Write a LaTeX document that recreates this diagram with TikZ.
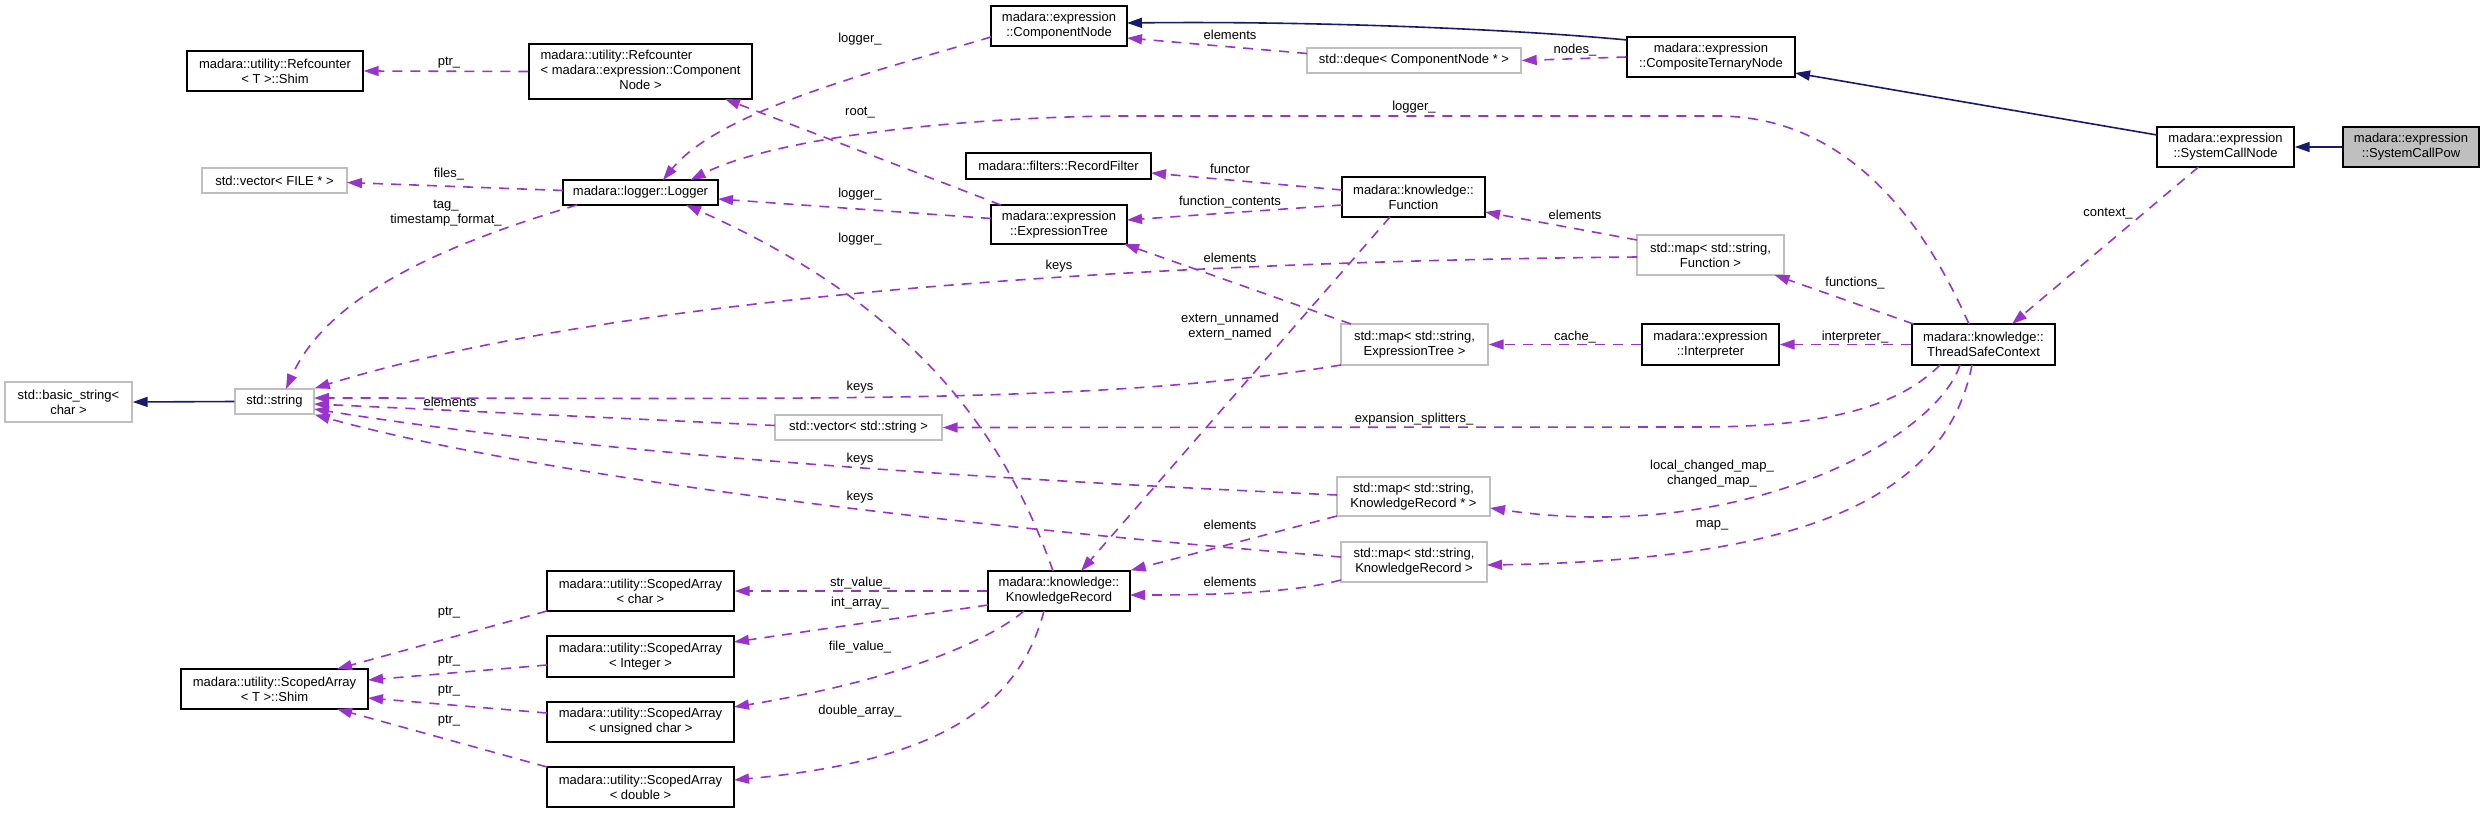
\documentclass[tikz,border=0pt]{standalone}
\usepackage{fontspec}
\setmainfont{Liberation Sans}
\usetikzlibrary{arrows.meta,calc}
\definecolor{usepurple}{HTML}{9A32CD}
\definecolor{inhblue}{HTML}{191970}
\definecolor{bordergray}{HTML}{BFBFBF}
\definecolor{focusgray}{HTML}{BFBFBF}
\newcommand{\dfont}{\fontsize{6.5pt}{7.5pt}\selectfont}
\begin{document}
\begin{tikzpicture}[x=0.5pt,y=-0.5pt,
  cls/.style={draw=black, line width=0.7pt, fill=white, inner sep=0pt, align=center, font=\dfont},
  ucls/.style={cls, draw=bordergray},
  inhedge/.style={draw=inhblue, line width=0.8pt, -{Triangle[length=7.5pt,width=5pt]}},
  usedge/.style={draw=usepurple, line width=0.8pt, dash pattern=on 5pt off 4pt, -{Triangle[length=7.5pt,width=5pt]}},
  lbl/.style={font=\dfont, inner sep=0pt, align=center}]
\useasboundingbox (0,0) rectangle (2484,813);
% nodes
\node[cls, fill=focusgray, minimum width=68pt, minimum height=20pt] (pow) at (2411,147) {madara::expression\\::SystemCallPow};
\node[cls, minimum width=68.5pt, minimum height=20pt] (scn) at (2225.5,147) {madara::expression\\::SystemCallNode};
\node[cls, minimum width=84pt, minimum height=20pt] (ctn) at (1711,57) {madara::expression\\::CompositeTernaryNode};
\node[cls, minimum width=68pt, minimum height=20pt] (cn) at (1059,26) {madara::expression\\::ComponentNode};
\node[ucls, minimum width=107pt, minimum height=12.5pt] (deque) at (1414,60.5) {std::deque< ComponentNode * >};
\node[cls, minimum width=111.5pt, minimum height=27.5pt] (refcn) at (640.5,71.5) {\begin{tabular}{@{}l@{}}madara::utility::Refcounter\\< madara::expression::Component\\\multicolumn{1}{@{}c@{}}{Node >}\end{tabular}};
\node[cls, minimum width=88pt, minimum height=20pt] (refshim) at (275,71) {madara::utility::Refcounter\\< T >::Shim};
\node[ucls, minimum width=72.5pt, minimum height=12.5pt] (vecFILE) at (274.5,180.5) {std::vector< FILE * >};
\node[cls, minimum width=77.5pt, minimum height=12.5pt] (logger) at (640.5,192.5) {madara::logger::Logger};
\node[cls, minimum width=92.5pt, minimum height=13pt] (rf) at (1058.5,166) {madara::filters::RecordFilter};
\node[cls, minimum width=71.5pt, minimum height=20pt] (fn) at (1413.5,197) {madara::knowledge::\\Function};
\node[cls, minimum width=68pt, minimum height=19.5pt] (et) at (1059,224.5) {madara::expression\\::ExpressionTree};
\node[ucls, minimum width=73.5pt, minimum height=20pt] (mapF) at (1710.5,255) {std::map< std::string,\\ Function >};
\node[ucls, minimum width=73.5pt, minimum height=20.5pt] (mapET) at (1414.5,344.5) {std::map< std::string,\\ ExpressionTree >};
\node[cls, minimum width=68.5pt, minimum height=20.5pt] (interp) at (1710.5,344.5) {madara::expression\\::Interpreter};
\node[cls, minimum width=71.5pt, minimum height=20.5pt] (tsc) at (1983.5,344.5) {madara::knowledge::\\ThreadSafeContext};
\node[ucls, minimum width=63.5pt, minimum height=20pt] (bs) at (68.5,402) {std::basic\_string<\\ char >};
\node[ucls, minimum width=39.5pt, minimum height=12.5pt] (string) at (274.5,401.5) {std::string};
\node[ucls, minimum width=83.5pt, minimum height=12.5pt] (vecString) at (858.5,427.5) {std::vector< std::string >};
\node[ucls, minimum width=76.5pt, minimum height=19.5pt] (mapKRptr) at (1413.5,496.5) {std::map< std::string,\\ KnowledgeRecord * >};
\node[ucls, minimum width=73pt, minimum height=20pt] (mapKR) at (1414,562) {std::map< std::string,\\ KnowledgeRecord >};
\node[cls, minimum width=71pt, minimum height=20pt] (kr) at (1059,591) {madara::knowledge::\\KnowledgeRecord};
\node[cls, minimum width=93.5pt, minimum height=20pt] (sachar) at (640.5,591) {madara::utility::ScopedArray\\< char >};
\node[cls, minimum width=93.5pt, minimum height=20.5pt] (saint) at (640.5,656.5) {madara::utility::ScopedArray\\< Integer >};
\node[cls, minimum width=93.5pt, minimum height=20pt] (sauchar) at (640.5,722) {madara::utility::ScopedArray\\< unsigned char >};
\node[cls, minimum width=93.5pt, minimum height=20pt] (sadouble) at (640.5,787) {madara::utility::ScopedArray\\< double >};
\node[cls, minimum width=93.5pt, minimum height=20pt] (sashim) at (274.5,689) {madara::utility::ScopedArray\\< T >::Shim};
% inheritance
\draw[inhedge] (pow.west) -- (scn.east);
\draw[inhedge] ($(scn)+(-68.5,-12)$) -- ($(ctn)+(84,16)$);
\draw[inhedge] ($(ctn)+(-84,-17)$) .. controls (1500,28) and (1300,21) .. ($(cn)+(68,-3)$);
\draw[inhedge] (string.west) -- (bs.east);
% usage
\draw[usedge] ($(scn)+(-27,20)$) -- ($(tsc)+(28.5,-20.5)$);
\draw[usedge] ($(tsc)+(-70,-20.5)$) -- ($(mapF)+(64,20)$);
\draw[usedge] (tsc.west) -- (interp.east);
\draw[usedge] ($(tsc)+(-14.5,-20.5)$) .. controls (1940,260) and (1870,118) .. (1720,116) -- (1130,116) .. controls (980,116) and (780,135) .. ($(logger)+(50,-12.5)$);
\draw[usedge] ($(tsc)+(-43.5,20.5)$) .. controls (1900,405) and (1830,427) .. (1700,427) -- (vecString.east);
\draw[usedge] ($(tsc)+(-23.5,20.5)$) .. controls (1935,440) and (1740,545) .. ($(mapKRptr)+(76.5,11.5)$);
\draw[usedge] ($(tsc)+(-11.5,20.5)$) .. controls (1945,500) and (1800,560) .. ($(mapKR)+(73,3)$);
\draw[usedge] (ctn.west) -- (deque.east);
\draw[usedge] ($(deque)+(-107,-7)$) -- ($(cn)+(68,12)$);
\draw[usedge] ($(cn)+(-68,11)$) .. controls (880,70) and (720,110) .. ($(logger)+(22.5,-12.5)$);
\draw[usedge] (refcn.west) -- (refshim.east);
\draw[usedge] ($(et)+(-58,-19.5)$) -- ($(refcn)+(84.5,27.5)$);
\draw[usedge] ($(et)+(-68,-6)$) -- ($(logger)+(77.5,6.5)$);
\draw[usedge] ($(logger)+(-77.5,-2)$) -- ($(vecFILE)+(72.5,2)$);
\draw[usedge] ($(logger)+(-63.5,12.5)$) .. controls (460,240) and (330,290) .. ($(string)+(11.5,-12.5)$);
\draw[usedge] ($(fn)+(-71.5,-7)$) -- ($(rf)+(92.5,7)$);
\draw[usedge] ($(fn)+(-71.5,8)$) -- ($(et)+(68,-4.5)$);
\draw[usedge] ($(fn)+(-23.5,20)$) -- ($(kr)+(22,-20)$);
\draw[usedge] ($(mapF)+(-73.5,-15)$) -- ($(fn)+(71.5,15)$);
\draw[usedge] ($(mapF)+(-73.5,2)$) .. controls (1100,262) and (600,300) .. (string.north east);
\draw[usedge] ($(mapET)+(-63.5,-20.5)$) -- ($(et)+(65,19.5)$);
\draw[usedge] ($(mapET)+(-73.5,20.5)$) .. controls (1100,405) and (800,398) .. ($(string)+(39.5,-3.5)$);
\draw[usedge] (interp.west) -- (mapET.east);
\draw[usedge] ($(vecString)+(-83.5,-2)$) -- ($(string)+(39.5,2.5)$);
\draw[usedge] ($(mapKRptr)+(-76.5,-1.5)$) .. controls (1000,480) and (600,455) .. ($(string)+(39.5,7.5)$);
\draw[usedge] ($(mapKR)+(-73,-5)$) .. controls (1000,530) and (550,480) .. (string.south east);
\draw[usedge] ($(mapKRptr)+(-76.5,19.5)$) -- (kr.north east);
\draw[usedge] ($(mapKR)+(-73,18)$) .. controls (1290,594) and (1200,595) .. ($(kr)+(71,4)$);
\draw[usedge] ($(kr)+(-6,-20)$) .. controls (1000,420) and (900,300) .. ($(logger)+(45.5,12.5)$);
\draw[usedge] (kr.west) -- (sachar.east);
\draw[usedge] ($(kr)+(-71,14)$) -- ($(saint)+(93.5,-14.5)$);
\draw[usedge] ($(kr)+(-35,20)$) .. controls (990,640) and (900,680) .. ($(sauchar)+(93.5,-15)$);
\draw[usedge] ($(kr)+(-15,20)$) .. controls (1020,700) and (950,760) .. ($(sadouble)+(93.5,-7)$);
\draw[usedge] ($(sachar)+(-93.5,20)$) -- ($(sashim)+(62.5,-20)$);
\draw[usedge] ($(saint)+(-93.5,8.5)$) -- ($(sashim)+(93.5,-9)$);
\draw[usedge] ($(sauchar)+(-93.5,-9)$) -- ($(sashim)+(93.5,9)$);
\draw[usedge] ($(sadouble)+(-93.5,-20)$) -- ($(sashim)+(62.5,20)$);
% labels
\node[lbl] (l1) at (449,63) {ptr\_};
\node[lbl] (l2) at (449,174) {files\_};
\node[lbl] (l3) at (446,213.5) {tag\_\\timestamp\_format\_};
\node[lbl] (l4) at (450,402) {elements};
\node[lbl] (l5) at (860,39) {logger\_};
\node[lbl] (l6) at (860,113) {root\_};
\node[lbl] (l7) at (860,194) {logger\_};
\node[lbl] (l8) at (860,239) {logger\_};
\node[lbl] (l9) at (860,387) {keys};
\node[lbl] (l10) at (860,459) {keys};
\node[lbl] (l11) at (860,497) {keys};
\node[lbl] (l12) at (860,583) {str\_value\_};
\node[lbl] (l13) at (860,603) {int\_array\_};
\node[lbl] (l14) at (860,647) {file\_value\_};
\node[lbl] (l15) at (860,711) {double\_array\_};
\node[lbl] (l16) at (1230,35) {elements};
\node[lbl] (l17) at (1230,169) {functor};
\node[lbl] (l18) at (1230,202) {function\_contents};
\node[lbl] (l19) at (1230,258) {elements};
\node[lbl] (l20) at (1059,266) {keys};
\node[lbl] (l21) at (1230,326.5) {extern\_unnamed\\extern\_named};
\node[lbl] (l22) at (1414,419) {expansion\_splitters\_};
\node[lbl] (l23) at (1230,525) {elements};
\node[lbl] (l24) at (1230,582) {elements};
\node[lbl] (l25) at (1414,107) {logger\_};
\node[lbl] (l26) at (1575,50) {nodes\_};
\node[lbl] (l27) at (1575,215) {elements};
\node[lbl] (l28) at (1575,337) {cache\_};
\node[lbl] (l29) at (1712,473.5) {local\_changed\_map\_\\changed\_map\_};
\node[lbl] (l30) at (1712,525) {map\_};
\node[lbl] (l31) at (1855,283) {functions\_};
\node[lbl] (l32) at (1855,337) {interpreter\_};
\node[lbl] (l33) at (2108,214) {context\_};
\node[lbl] (l34) at (449,613) {ptr\_};
\node[lbl] (l35) at (449,661) {ptr\_};
\node[lbl] (l36) at (449,691) {ptr\_};
\node[lbl] (l37) at (449,721) {ptr\_};
\end{tikzpicture}
\end{document}
